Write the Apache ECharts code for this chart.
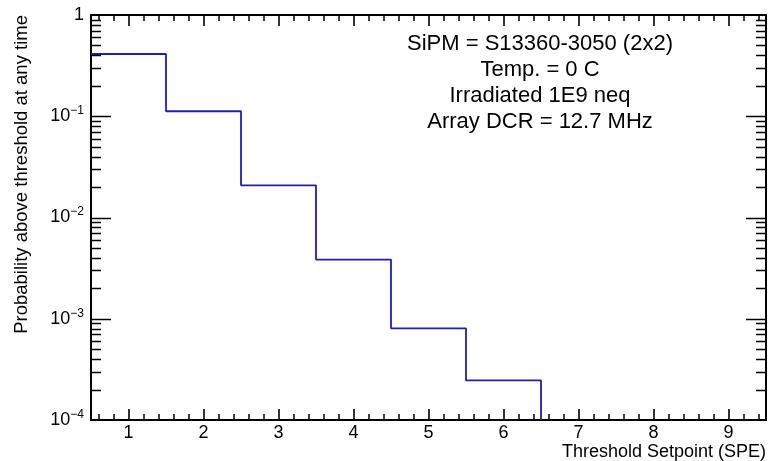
<!DOCTYPE html>
<html>
<head>
<meta charset="utf-8">
<script src="https://cdn.jsdelivr.net/npm/echarts@6/dist/echarts.min.js"></script>
<style>
html,body{margin:0;padding:0;background:#fff;}
#chart{width:769px;height:461px;}
</style>
</head>
<body>
<div id="chart"></div>
<script>
// ---- data ----
const binCenters = [1, 2, 3, 4, 5, 6, 7, 8, 9];
const probability = [0.412, 0.112, 0.0208, 0.00384, 0.000804, 0.000246, 0, 0, 0];
const xTickLabels = ['1', '2', '3', '4', '5', '6', '7', '8', '9'];
const yDecades = [0.0001, 0.001, 0.01, 0.1, 1];
const yTickLabels = ['10{e|\u22124}', '10{e|\u22123}', '10{e|\u22122}', '10{e|\u22121}', '1'];
const yMinorMultipliers = [2, 3, 4, 5, 6, 7, 8, 9];
const infoLines = ['SiPM = S13360-3050 (2x2)', 'Temp. = 0 C', 'Irradiated 1E9 neq', 'Array DCR = 12.7 MHz'];
const xTitle = 'Threshold Setpoint (SPE)';
const yTitle = 'Probability above threshold at any time';

const X_MIN = 0.5, X_MAX = 9.5, Y_MIN = 0.0001, Y_MAX = 1;

// histogram outline: step through bin edges, stop once bins go empty (ROOT clips at axis)
const stepPts = [];
for (let i = 0; i < binCenters.length; i++) {
  const lo = binCenters[i] - 0.5;
  const v = probability[i];
  if (v <= 0) { stepPts.push([lo, Y_MIN]); break; }
  stepPts.push([lo, v]);
  if (i === binCenters.length - 1) stepPts.push([binCenters[i] + 0.5, v]);
}

const FONT = 'Liberation Sans, Arial, Helvetica, sans-serif';
const chart = echarts.init(document.getElementById('chart'), null, {renderer: 'canvas'});

const xCommon = {
  type: 'value', min: X_MIN, max: X_MAX, splitNumber: 9,
  axisLine: {show: true, lineStyle: {color: '#000', width: 2}},
  axisTick: {show: true, inside: true, length: 11, lineStyle: {color: '#000', width: 1.6}},
  minorTick: {show: true, splitNumber: 5, length: 6, lineStyle: {color: '#000', width: 1.5}},
  splitLine: {show: false}, minorSplitLine: {show: false}
};
const yCommon = {
  type: 'log', logBase: 10, min: Y_MIN, max: Y_MAX, splitNumber: 4,
  axisLine: {show: true, lineStyle: {color: '#000', width: 2}},
  axisTick: {show: false},
  minorTick: {show: false},
  splitLine: {show: false}, minorSplitLine: {show: false}
};

const textGraphics = [
  {
    type: 'text', x: 540, y: 31,
    style: {
      text: infoLines.join('\n'), font: '22px ' + FONT, fill: '#000',
      textAlign: 'center', textVerticalAlign: 'top', lineHeight: 26
    }
  },
  {
    type: 'text', x: 766, y: 452,
    style: {text: xTitle, font: '18px ' + FONT, fill: '#000', textAlign: 'right', textVerticalAlign: 'middle'}
  },
  {
    type: 'text', x: 22, y: 15, rotation: Math.PI / 2,
    style: {text: yTitle, font: '18.5px ' + FONT, fill: '#000', textAlign: 'right', textVerticalAlign: 'middle'}
  }
];

chart.setOption({
  animation: false,
  backgroundColor: '#fff',
  grid: {left: 91, right: 3, top: 15, bottom: 41, containLabel: false},
  xAxis: [
    Object.assign({}, xCommon, {
      position: 'bottom',
      axisLabel: {
        show: true, margin: 4, color: '#000', fontFamily: FONT, fontSize: 18,
        showMinLabel: false, showMaxLabel: false,
        formatter: function (v) {
          const idx = binCenters.indexOf(Math.round(v * 1000) / 1000);
          return idx >= 0 ? xTickLabels[idx] : '';
        }
      }
    }),
    Object.assign({}, xCommon, {position: 'top', axisLabel: {show: false}})
  ],
  yAxis: [
    Object.assign({}, yCommon, {
      position: 'left',
      axisLabel: {
        show: true, margin: 7, color: '#000', fontFamily: FONT, fontSize: 18,
        formatter: function (v) {
          for (let i = 0; i < yDecades.length; i++) {
            if (Math.abs(Math.log10(v) - Math.log10(yDecades[i])) < 1e-6) return yTickLabels[i];
          }
          return '';
        },
        rich: {
          e: {fontFamily: FONT, fontSize: 12, color: '#000', padding: [0, 0, 11, 0]}
        }
      }
    }),
    Object.assign({}, yCommon, {position: 'right', axisLabel: {show: false}})
  ],
  series: [
    {
      type: 'line',
      data: stepPts,
      step: 'end',
      showSymbol: false,
      symbol: 'none',
      clip: true,
      lineStyle: {color: '#1f1fb8', width: 1.8},
      xAxisIndex: 0, yAxisIndex: 0
    }
  ],
  graphic: textGraphics
});

// y-axis ticks (log decades + 2..9 minor) positioned through the library's own y scale
const tickGraphics = [];
const xl = chart.convertToPixel({xAxisIndex: 0}, X_MIN);
const xr = chart.convertToPixel({xAxisIndex: 0}, X_MAX);
function addTick(v, len) {
  const y = Math.round(chart.convertToPixel({yAxisIndex: 0}, v)) + 0.5;
  tickGraphics.push({type: 'line', z: 10, shape: {x1: xl, y1: y, x2: xl + len, y2: y},
    style: {stroke: '#000', lineWidth: 1.5}});
  tickGraphics.push({type: 'line', z: 10, shape: {x1: xr, y1: y, x2: xr - len, y2: y},
    style: {stroke: '#000', lineWidth: 1.5}});
}
for (let d = 0; d < yDecades.length; d++) {
  if (d > 0 && d < yDecades.length - 1) addTick(yDecades[d], 20);
  if (d < yDecades.length - 1) {
    yMinorMultipliers.forEach(function (m) { addTick(yDecades[d] * m, 10); });
  }
}
chart.setOption({graphic: textGraphics.concat(tickGraphics)}, {replaceMerge: ['graphic']});
</script>
</body>
</html>
